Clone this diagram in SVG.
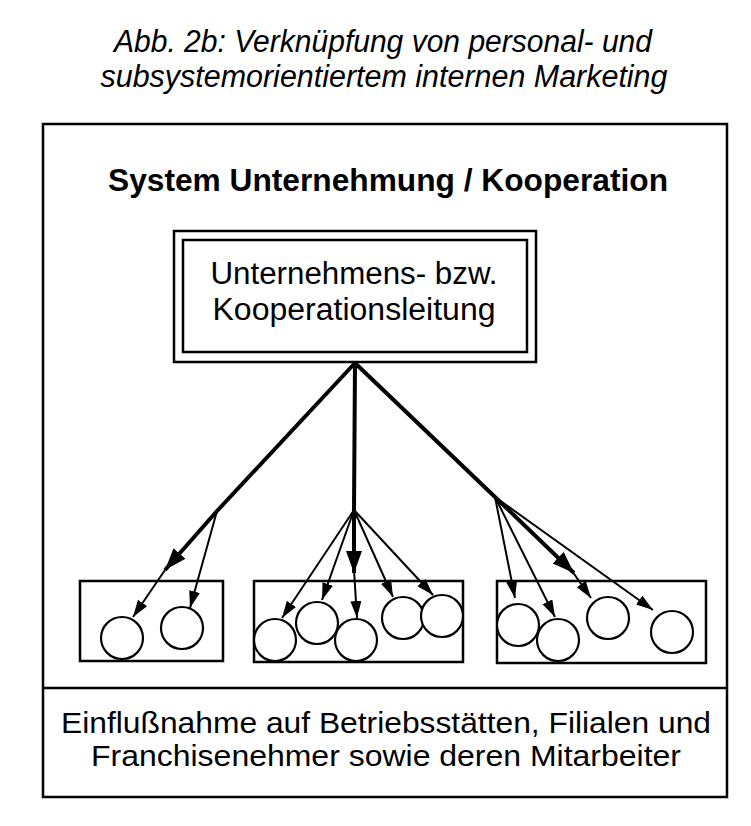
<svg xmlns="http://www.w3.org/2000/svg" width="751" height="826" viewBox="0 0 751 826">
<style>
.box{fill:none;stroke:#000;stroke-width:2.5}
.circ{fill:#fff;stroke:#000;stroke-width:2.2}
.thick{stroke:#000;stroke-width:4;fill:none}
.thin{stroke:#000;stroke-width:2;fill:none}
.t{font-family:"Liberation Sans",Arial,sans-serif;fill:#000}
</style>
<defs>
<marker id="hThin" markerUnits="userSpaceOnUse" markerWidth="18" markerHeight="12" refX="17" refY="5.5" orient="auto"><path d="M0,0 L17,5.5 L0,11 z" fill="#000"/></marker>
<marker id="hThick" markerUnits="userSpaceOnUse" markerWidth="24" markerHeight="18" refX="22" refY="8" orient="auto"><path d="M0,0 L22,8 L0,16 z" fill="#000"/></marker>
</defs>
<rect width="751" height="826" fill="#fff"/>
<g id="caption">
<text class="t" x="383" y="52" font-size="31" font-style="italic" text-anchor="middle" textLength="538" lengthAdjust="spacingAndGlyphs">Abb. 2b: Verknüpfung von personal- und</text>
<text class="t" x="384" y="87" font-size="31" font-style="italic" text-anchor="middle" textLength="567" lengthAdjust="spacingAndGlyphs">subsystemorientiertem internen Marketing</text>
</g>
<g id="system">
<rect class="box" x="43" y="124" width="684" height="673"/>
<text class="t" x="388" y="191" font-size="31" font-weight="bold" text-anchor="middle" textLength="560" lengthAdjust="spacingAndGlyphs">System Unternehmung / Kooperation</text>
</g>
<g id="leitung">
<rect class="box" x="174" y="231" width="362" height="131"/>
<rect class="box" x="183" y="240" width="344" height="112"/>
<text class="t" x="354" y="284" font-size="31" text-anchor="middle" textLength="287" lengthAdjust="spacingAndGlyphs">Unternehmens- bzw.</text>
<text class="t" x="354" y="320" font-size="31" text-anchor="middle" textLength="283" lengthAdjust="spacingAndGlyphs">Kooperationsleitung</text>
</g>
<g id="gruppe1">
<rect class="box" x="80" y="581" width="143" height="80"/>
<circle class="circ" cx="122" cy="638" r="21"/>
<circle class="circ" cx="182" cy="628" r="21"/>
</g>
<g id="gruppe2">
<rect class="box" x="254" y="581" width="209" height="81"/>
<circle class="circ" cx="275" cy="640" r="21"/>
<circle class="circ" cx="317" cy="623" r="21"/>
<circle class="circ" cx="356" cy="640" r="21"/>
<circle class="circ" cx="403" cy="618" r="21"/>
<circle class="circ" cx="442" cy="616" r="21"/>
</g>
<g id="gruppe3">
<rect class="box" x="497" y="581" width="209" height="82"/>
<circle class="circ" cx="518" cy="625" r="21"/>
<circle class="circ" cx="558" cy="640" r="21"/>
<circle class="circ" cx="608" cy="618" r="21"/>
<circle class="circ" cx="672" cy="632" r="21"/>
</g>
<g id="einflussnahme">
<line x1="43" y1="688" x2="727" y2="688" stroke="#000" stroke-width="2.5"/>
<text class="t" x="386" y="733" font-size="30" text-anchor="middle" textLength="650" lengthAdjust="spacingAndGlyphs">Einflußnahme auf Betriebsstätten, Filialen und</text>
<text class="t" x="386" y="766" font-size="30" text-anchor="middle" textLength="590" lengthAdjust="spacingAndGlyphs">Franchisenehmer sowie deren Mitarbeiter</text>
</g>
<g id="connectors">
<line class="thick" x1="355" y1="363" x2="217" y2="511"/>
<line class="thick" x1="217" y1="511" x2="165" y2="570" marker-end="url(#hThick)"/>
<line class="thin" x1="165" y1="570" x2="133" y2="617" marker-end="url(#hThin)"/>
<line class="thin" x1="217" y1="511" x2="190" y2="608" marker-end="url(#hThin)"/>
<line class="thick" x1="355" y1="363" x2="354" y2="510"/>
<line class="thick" x1="354" y1="510" x2="354" y2="573" marker-end="url(#hThick)"/>
<line class="thin" x1="354" y1="570" x2="357" y2="618" marker-end="url(#hThin)"/>
<line class="thin" x1="354" y1="510" x2="282" y2="618" marker-end="url(#hThin)"/>
<line class="thin" x1="354" y1="510" x2="322" y2="600" marker-end="url(#hThin)"/>
<line class="thin" x1="354" y1="510" x2="393" y2="597" marker-end="url(#hThin)"/>
<line class="thin" x1="354" y1="510" x2="433" y2="595" marker-end="url(#hThin)"/>
<line class="thick" x1="355" y1="363" x2="495" y2="497"/>
<line class="thin" x1="495" y1="497" x2="515" y2="598" marker-end="url(#hThin)"/>
<line class="thin" x1="495" y1="497" x2="555" y2="617" marker-end="url(#hThin)"/>
<line class="thick" x1="495" y1="497" x2="574" y2="573" marker-end="url(#hThick)"/>
<line class="thin" x1="572" y1="571" x2="591" y2="598" marker-end="url(#hThin)"/>
<line class="thin" x1="495" y1="497" x2="653" y2="610" marker-end="url(#hThin)"/>
</g>
</svg>
